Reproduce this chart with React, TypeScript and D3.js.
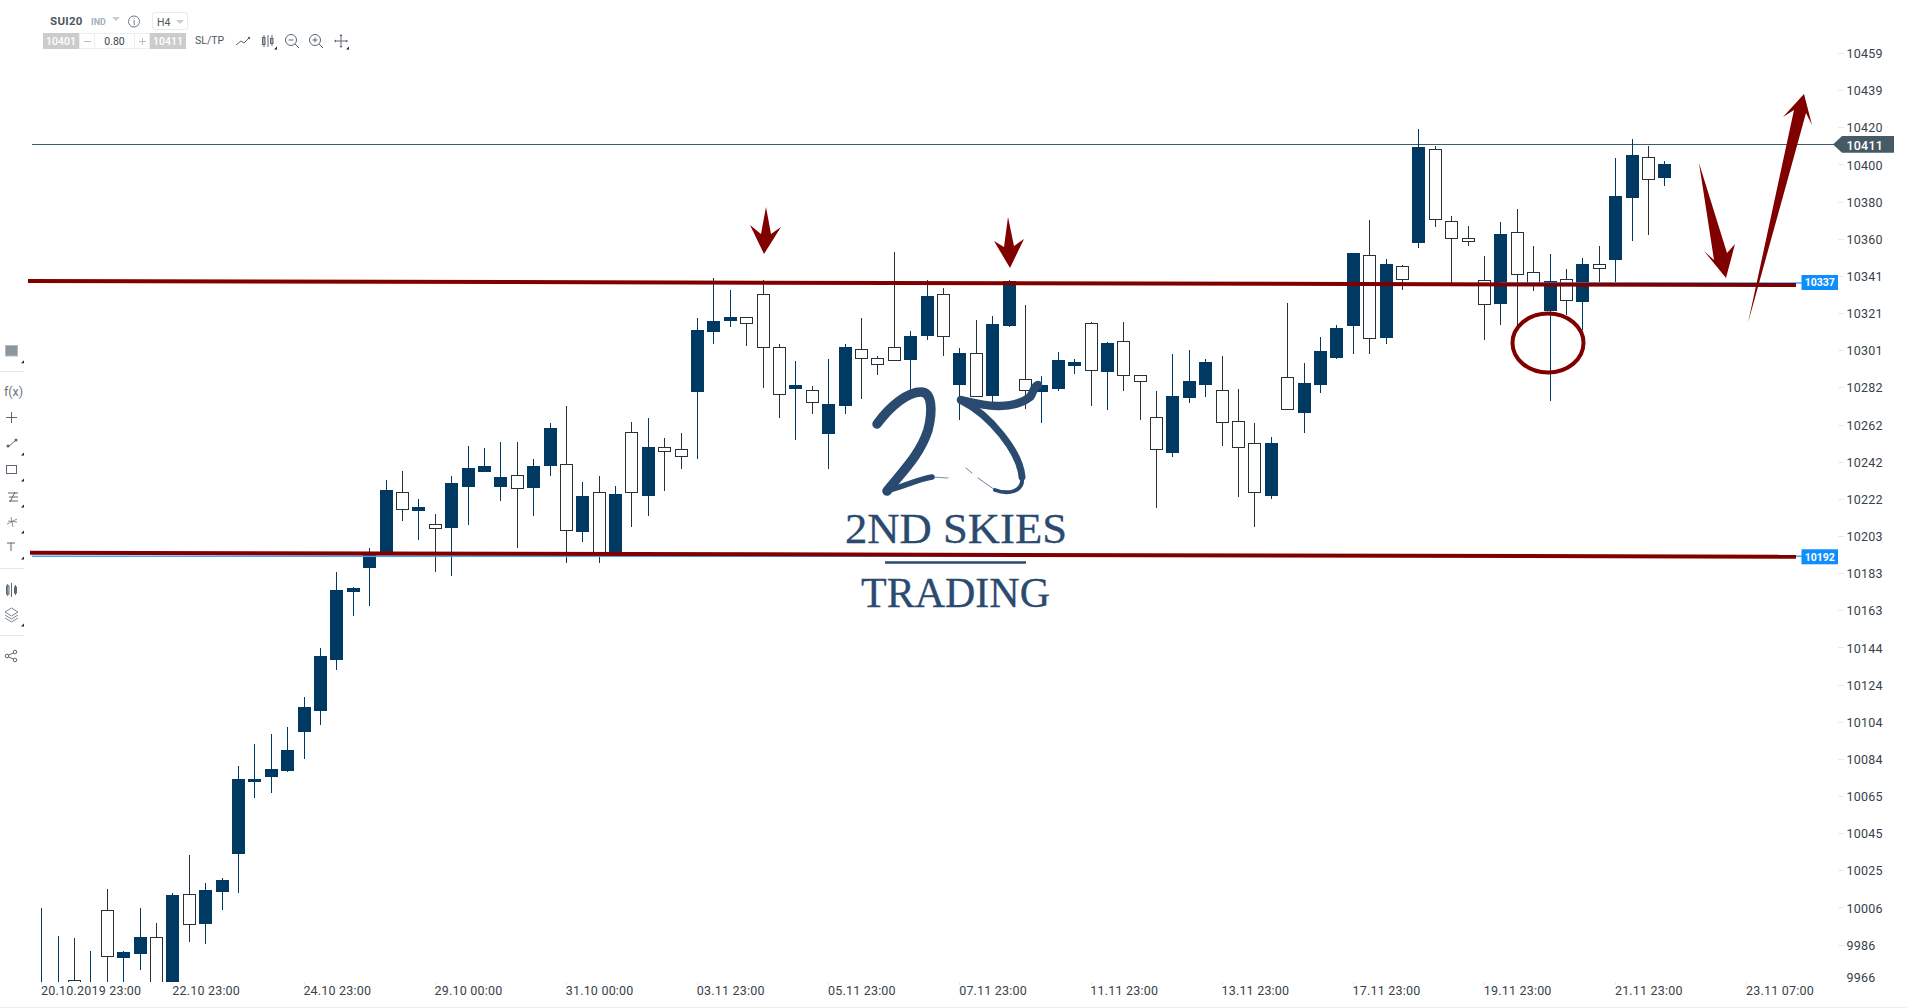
import React from "react";
import * as d3 from "d3";

const W = 1907;
const H = 1008;

const priceTickLabels = ["10459","10439","10420","10400","10380","10360","10341","10321","10301","10282","10262","10242","10222","10203","10183","10163","10144","10124","10104","10084","10065","10045","10025","10006","9986","9966"];
const dateTickLabels = ["20.10.2019 23:00","22.10 23:00","24.10 23:00","29.10 00:00","31.10 00:00","03.11 23:00","05.11 23:00","07.11 23:00","11.11 23:00","13.11 23:00","17.11 23:00","19.11 23:00","21.11 23:00","23.11 07:00"];
const dateTickIndex = [0,8,16,24,32,40,48,56,64,72,80,88,96,104];

const highs = [10005.3,9990.4,9989.4,9982.5,10015.4,9982.5,10005.3,9997.3,10013.2,10033.4,10018.5,10021.2,10080.6,10092.3,10097.6,10101.3,10117.2,10143.3,10183.6,10175.6,10196.3,10232.4,10237.2,10222.3,10214.4,10234.5,10250.4,10249.4,10252.6,10252.6,10243.5,10262.7,10271.7,10231.3,10234.5,10229.2,10263.2,10265.3,10254.7,10257.3,10318.4,10339.6,10333.2,10318.7,10338.5,10304.6,10295.6,10282.3,10296.6,10304.6,10318.4,10298.2,10353.4,10311.5,10338.5,10334.3,10302.5,10317.3,10319.4,10338.5,10325.3,10287.6,10300.3,10296.6,10316.2,10305.6,10316.2,10288,10279.6,10299.3,10301.4,10296.6,10298.2,10280.7,10262.7,10255.2,10326.3,10294.5,10308.3,10314.7,10352.9,10370.4,10349.7,10346.5,10418.7,10409.6,10372.5,10367.2,10351.3,10369.3,10376.2,10356.6,10352.3,10344.4,10350.2,10356.6,10403.3,10413.4,10409.6,10401.7];
const lows = [9950,9950,9955,9955,9950,9950,9972.5,9950,9950,9987.4,9986.3,10004.4,10013.4,10063.8,10066.5,10077.6,10084.5,10102.4,10131.6,10160.2,10165.5,10193.5,10210.8,10200.7,10183.7,10181.6,10208.7,10236.8,10221.4,10196.5,10213.5,10234.7,10188.5,10199.7,10188.5,10191.7,10207.6,10213.5,10226.7,10238.4,10243.7,10304.7,10313.8,10303.7,10281.4,10265.5,10253.8,10267.6,10238.4,10267.6,10275.5,10288,10295.4,10279.1,10306.9,10298.4,10264.4,10276.3,10271.3,10313.8,10270.1,10262.8,10279.8,10288.8,10271.8,10269.7,10279.8,10264.4,10217.7,10244.8,10273.4,10276.6,10250.6,10223.5,10207.6,10222.5,10269.4,10257.3,10278.7,10296.8,10299.4,10299.4,10304.7,10333.4,10355.7,10366.8,10336.9,10356.7,10306.9,10314.8,10314.7,10332.9,10274.5,10320,10312,10337.5,10337.5,10359.4,10362.6,10388.6];
const opens = [9956.5,9958,9966.9,9960,10004.1,9978.9,9981,9989.7,9955,10012.6,9997,10013.9,10034.1,10072.3,10075,10078.1,10098.8,10110,10136.9,10173,10185.7,10193.7,10225.9,10216.1,10208.9,10207.1,10228.8,10236.8,10228.8,10234.9,10228.3,10240,10240.7,10205,10225.9,10193.7,10257.7,10224.1,10249.8,10248.7,10279.3,10311.1,10316.8,10318.7,10330.9,10302.8,10280.9,10280,10257,10271.8,10301.8,10297,10302.8,10296.2,10309,10330.9,10283,10299.6,10277.1,10314.3,10285.8,10279.3,10280.9,10293.1,10315.6,10289.9,10306,10288,10265.7,10246.9,10276.1,10283,10280,10263.6,10251.9,10224.1,10286.9,10268.1,10283,10297.3,10314.3,10351.6,10307.9,10345.8,10358.3,10407.9,10369.7,10360.7,10338.5,10326,10363.9,10342.6,10322.1,10338.9,10327,10346.9,10349.3,10382.2,10403.7,10392.8];
const closes = [9964.4,9964,9960,9964,9979.1,9981.9,9989.9,9955,10012.2,9996.1,10014.8,10020.1,10073.7,10073.7,10079,10089.1,10111.9,10139,10174,10175.1,10193.7,10227.1,10216.3,10218.1,10206.2,10230.8,10238.8,10239.8,10234,10227.5,10239.8,10260,10205.2,10223.9,10193.5,10225,10225.3,10249.9,10247.1,10244.4,10312,10316.8,10318.9,10315,10302.3,10277.4,10282.8,10273.1,10272.7,10303,10296.5,10293.3,10295.4,10308.8,10330,10308.1,10299.8,10276.3,10315.2,10338,10279.5,10282.8,10296.1,10295,10290.1,10305.1,10287.4,10284.2,10248.2,10277,10284.9,10295,10262.5,10249.2,10225.3,10252,10269.4,10283.9,10300.9,10313.1,10352.9,10307.1,10347,10338.4,10409.1,10370.2,10360.1,10358.5,10325.1,10362.9,10341,10335.2,10338,10327.2,10347,10344.2,10383.1,10404.9,10391.4,10400.1];

const lastPrice = 10411;
const supportPrice = 10192;
const resistancePrice = 10337;

const y = d3.scaleLinear().domain([9966, 10459]).range([982, 53]);
const tickY = d3.scalePoint<string>().domain(priceTickLabels).range([53, 981.8]);
const x = d3.scaleLinear().domain([0, 99]).range([41.3, 1664.3]);

const FILL = "#003a63";
const HOLLOW = "#263238";
const RED = "#800000";
const AXIS = "#37424a";
const ICON = "#5b6770";
const LOGO = "#2a4a70";
const FONT = "Roboto, sans-serif";

const arrowLine = d3.line<[number, number]>().curve(d3.curveLinearClosed);
const arrow1: [number, number][] = [[766,207],[771,234],[781,227],[764,254],[750,225],[761,234]];
const arrow2: [number, number][] = [[1008,217],[1014,246],[1024,239],[1010,268],[994,241],[1004,247]];
const arrow3: [number, number][] = [[1699,163],[1727,253],[1735,244],[1726,278],[1704,251],[1714,260]];
const arrow4: [number, number][] = [[1748,323],[1794,110],[1783,117],[1804,94],[1812,125],[1806,113]];

function Triangle({ cx, cy }: { cx: number; cy: number }) {
  return <path d={`M${cx - 2},${cy + 1.5}L${cx + 1},${cy + 1.5}L${cx + 1},${cy - 1.5}Z`} fill="#222" />;
}

function Toolbar() {
  const t = { fontFamily: FONT } as const;
  return (
    <g>
      <text x={50} y={25} fontSize={11.5} fontWeight={700} fill="#4d5860" style={t} letterSpacing={0.3}>SUI20</text>
      <text x={91} y={24.5} fontSize={9} fontWeight={700} fill="#a4b0ba" style={t}>IND</text>
      <path d="M112,17L120,17L116,21Z" fill="#c9ced2" />
      <circle cx={134} cy={21.5} r={5.5} fill="none" stroke={ICON} strokeWidth={0.9} />
      <text x={134} y={25} fontSize={8.5} textAnchor="middle" fill={ICON} style={t}>i</text>
      <rect x={152.5} y={12.5} width={35} height={17} rx={2} fill="#fff" stroke="#e8eaec" />
      <text x={157} y={26} fontSize={10.5} fill="#4d5860" style={t}>H4</text>
      <path d="M176,20L184,20L180,24Z" fill="#c9ced2" />
      <rect x={43} y={33} width={36} height={16} fill="#cccccc" />
      <text x={61} y={45} fontSize={10.5} fontWeight={500} textAnchor="middle" fill="#fff" style={t}>10401</text>
      <rect x={79.5} y={33.5} width={15} height={15} fill="#fff" stroke="#eceeef" />
      <path d="M84,41.5L91,41.5" stroke="#b8bec3" />
      <rect x={94.5} y={33.5} width={40} height={15} fill="#fff" stroke="#eceeef" />
      <text x={114.5} y={45} fontSize={10.5} textAnchor="middle" fill="#37424a" style={t}>0.80</text>
      <rect x={134.5} y={33.5} width={15} height={15} fill="#fff" stroke="#eceeef" />
      <path d="M139,41.5L146,41.5M142.5,38L142.5,45" stroke="#b8bec3" />
      <rect x={150} y={33} width={36} height={16} fill="#cccccc" />
      <text x={168} y={45} fontSize={10.5} fontWeight={500} textAnchor="middle" fill="#fff" style={t}>10411</text>
      <text x={195} y={44} fontSize={10.5} fill="#4d5860" style={t}>SL/TP</text>
      <path d="M236,45L241,41L244,43L249,38" fill="none" stroke={ICON} strokeWidth={1} />
      <circle cx={249} cy={38} r={1.2} fill={ICON} />
      <g fill="none" stroke={ICON} strokeWidth={1}>
        <rect x={262.5} y={37.5} width={2.5} height={7} />
        <path d="M264,35V47" />
        <rect x={270.5} y={38.5} width={2.5} height={5} />
        <path d="M272,35V46" />
        <path d="M268,35V47" />
        <circle cx={291} cy={40} r={5.5} />
        <path d="M288.5,40H293.5M295,44L299,48" />
        <circle cx={315} cy={40} r={5.5} />
        <path d="M312.5,40H317.5M315,37.5V42.5M319,44L323,48" />
        <path d="M341,35V47M335,41H347" />
      </g>
      <path d="M341,34L339.5,36H342.5ZM341,48L339.5,46H342.5ZM334,41L336,39.5V42.5ZM348,41L346,39.5V42.5Z" fill={ICON} />
      <Triangle cx={276} cy={48} />
      <Triangle cx={348} cy={48} />
    </g>
  );
}

function SideBar() {
  return (
    <g>
      <rect x={5.5} y={345.5} width={12} height={10.5} fill="#8c969d" stroke="#b4bbc0" />
      <path d="M0,371.5H24M0,568.5H24M0,635.5H24" stroke="#e4e6e8" />
      <text x={4} y={396} fontSize={12.5} fill="#6a747c" style={{ fontFamily: FONT }}>f(x)</text>
      <g fill="none" stroke={ICON} strokeWidth={1}>
        <path d="M6,417.5H17M11.5,412V423" />
        <path d="M8,447L16,440" />
        <rect x={6.5} y={465.5} width={10} height={8} />
        <path d="M8,493H18M9,497H18M9,501H18M10,502L15,492" />
        <path d="M7,524L17,519M11,517L13,527M8,521L17,522" strokeWidth={0.7} />
        <path d="M7,543H15M11,543V551" />
        <rect x={6.5} y={586} width={2.5} height={8} />
        <path d="M7.7,584V596M11.5,583V597" />
        <rect x={14.5} y={587} width={2} height={6} />
        <path d="M15.5,585V595" />
        <path d="M5,612L11.5,608L18,612L11.5,616ZM5,615L11.5,619L18,615M5,618L11.5,622L18,618" strokeWidth={0.8} />
        <circle cx={7} cy={656} r={1.8} />
        <circle cx={15} cy={652} r={1.8} />
        <circle cx={15} cy={660} r={1.8} />
        <path d="M8.5,655L13.5,653M8.5,657L13.5,659" />
      </g>
      <circle cx={8} cy={446} r={1.5} fill={ICON} />
      <circle cx={16} cy={440} r={1.5} fill={ICON} />
      {[361.7, 454, 480, 506, 532, 558, 625].map((c) => <Triangle key={c} cx={23} cy={c} />)}
    </g>
  );
}

function Logo() {
  return (
    <g fill="none" stroke={LOGO} strokeLinecap="round">
      <path d="M877,424C891,405 908,392 921,392C932,392 933,410 928,430C920,455 902,472 887,491" strokeWidth={9.5} />
      <path d="M886,491C903,487 915,480 932,477" strokeWidth={5.5} />
      <path d="M932,477L948,478" strokeWidth={1.2} opacity={0.6} />
      <path d="M961,400C985,406 1012,411 1030,397C1034,392 1033,387 1038,385" strokeWidth={8.5} />
      <path d="M962,401C990,415 1020,452 1022,477" strokeWidth={7} />
      <path d="M1022,477C1024,492 1008,495 995,490" strokeWidth={4} />
      <path d="M995,490L978,478M966,468L972,473" strokeWidth={1} opacity={0.7} />
      <text x={845} y={543} stroke={LOGO} strokeWidth={0.3} fill={LOGO} fontSize={42} textLength={222} lengthAdjust="spacingAndGlyphs" style={{ fontFamily: "'Liberation Serif', serif" }}>2ND SKIES</text>
      <path d="M885,562.5H1026" strokeWidth={2.5} strokeLinecap="butt" />
      <text x={861} y={607} stroke={LOGO} strokeWidth={0.3} fill={LOGO} fontSize={42} textLength={189} lengthAdjust="spacingAndGlyphs" style={{ fontFamily: "'Liberation Serif', serif" }}>TRADING</text>
    </g>
  );
}

export default function App() {
  const lastY = Math.ceil(y(lastPrice)) + 0.5;
  return (
    <svg width={W} height={H} viewBox={`0 0 ${W} ${H}`} style={{ position: "fixed", left: 0, top: 0, background: "#fff" }} xmlns="http://www.w3.org/2000/svg">
      <defs>
        <clipPath id="plot"><rect x={28} y={0} width={1810} height={982} /></clipPath>
      </defs>
      <rect width={W} height={H} fill="#fff" />
      <path d={`M0,1007.5H${W}`} stroke="#eceeef" />

      <line x1={32} x2={1834} y1={lastY} y2={lastY} stroke="#3f5a68" />

      <g clipPath="url(#plot)" shapeRendering="crispEdges">
        {highs.map((hi, i) => {
          const up = closes[i] > opens[i];
          const cx = Math.round(x(i));
          const top = Math.round(y(Math.max(opens[i], closes[i])));
          const bot = Math.round(y(Math.min(opens[i], closes[i])));
          const color = up ? FILL : HOLLOW;
          return (
            <g key={i}>
              <line x1={cx + 0.5} x2={cx + 0.5} y1={y(hi)} y2={y(lows[i])} stroke={color} />
              {up ? (
                <rect x={cx - 6} y={top} width={13} height={Math.max(bot - top, 1)} fill={FILL} />
              ) : (
                <rect x={cx - 5.5} y={top + 0.5} width={12} height={Math.max(bot - top - 1, 1)} fill="#fff" stroke={HOLLOW} />
              )}
            </g>
          );
        })}
      </g>

      <line x1={1500} x2={1802} y1={y(resistancePrice)} y2={y(resistancePrice)} stroke="#4aa3f5" strokeWidth={1.5} />
      <line x1={32} x2={1802} y1={y(supportPrice)} y2={y(supportPrice)} stroke="#4aa3f5" strokeWidth={1.5} />

      <line x1={28} x2={1796} y1={281} y2={285} stroke={RED} strokeWidth={4} />
      <line x1={30} x2={1796} y1={552.7} y2={556.7} stroke={RED} strokeWidth={4} />

      {[arrow1, arrow2, arrow3, arrow4].map((a, i) => <path key={i} d={arrowLine(a) as string} fill={RED} />)}
      <ellipse cx={1548} cy={343} rx={35.5} ry={29.5} fill="none" stroke={RED} strokeWidth={4} />

      <Logo />

      {priceTickLabels.map((l, i) => {
        const py = tickY(l) as number;
        const last = i === priceTickLabels.length - 1;
        return (
          <g key={l}>
            {!last && <line x1={1838} x2={1844} y1={Math.round(py) + 0.5} y2={Math.round(py) + 0.5} stroke="#e6e8ea" />}
            <text x={1846.5} y={last ? 977 : py + 0.6} dy="0.36em" fontSize={12.5} fill={AXIS} letterSpacing={0.2} style={{ fontFamily: FONT }}>{l}</text>
          </g>
        );
      })}

      {dateTickLabels.map((l, i) => {
        const tx = x(dateTickIndex[i]);
        return (
          <g key={l}>
            <line x1={Math.round(tx) + 0.5} x2={Math.round(tx) + 0.5} y1={982} y2={985} stroke="#e6e8ea" />
            <text x={tx - 0.2} y={990.5} dy="0.36em" fontSize={12.5} fill={AXIS} letterSpacing={0.2} style={{ fontFamily: FONT }}>{l}</text>
          </g>
        );
      })}

      <path d={`M1833,${lastY}L1842,136H1894V152.7H1842Z`} fill="#455a64" />
      <text x={1846.5} y={145} dy="0.36em" fontSize={12.5} fontWeight={500} fill="#fff" letterSpacing={0.2} style={{ fontFamily: FONT }}>{lastPrice}</text>
      <rect x={1801.5} y={275} width={36.5} height={15} fill="#0d8efc" />
      <text x={1819.7} y={282.5} dy="0.36em" fontSize={10.5} fontWeight={700} fill="#fff" textAnchor="middle" style={{ fontFamily: FONT }}>{resistancePrice}</text>
      <rect x={1801.5} y={549.3} width={36.5} height={15} fill="#0d8efc" />
      <text x={1819.7} y={556.8} dy="0.36em" fontSize={10.5} fontWeight={700} fill="#fff" textAnchor="middle" style={{ fontFamily: FONT }}>{supportPrice}</text>

      <Toolbar />
      <SideBar />
    </svg>
  );
}
